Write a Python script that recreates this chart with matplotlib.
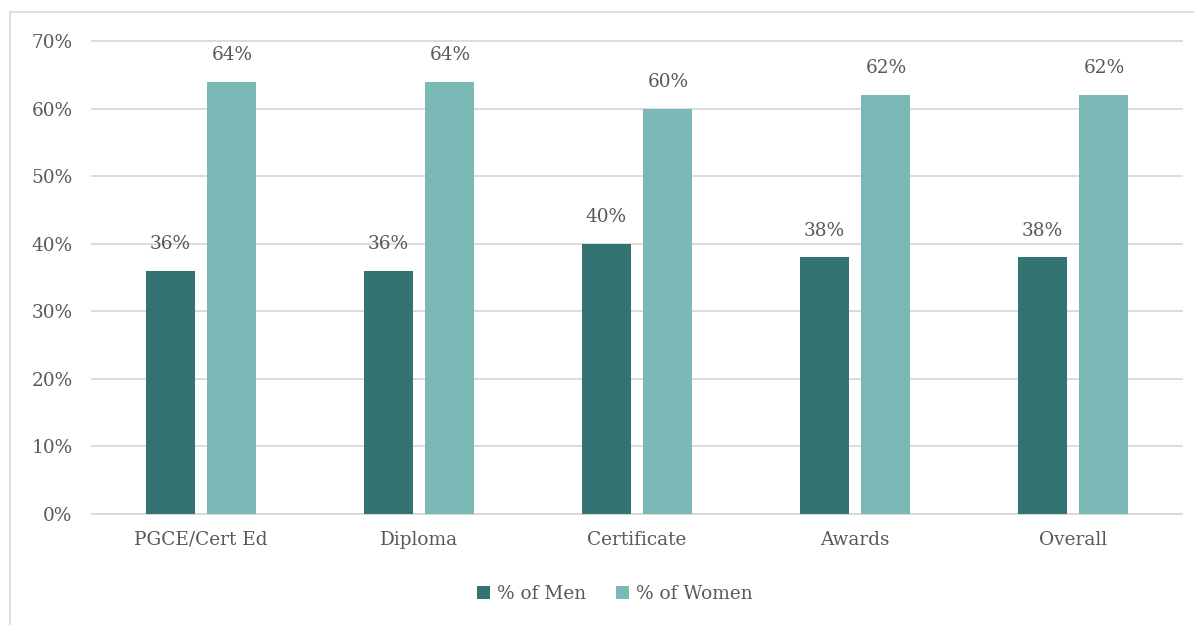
import matplotlib
matplotlib.use("Agg")
import matplotlib.pyplot as plt
from matplotlib.lines import Line2D
from matplotlib.ticker import PercentFormatter, MultipleLocator
import numpy as np

categories = ["PGCE/Cert Ed", "Diploma", "Certificate", "Awards", "Overall"]
men = [36, 36, 40, 38, 38]
women = [64, 64, 60, 62, 62]
series_names = ["% of Men", "% of Women"]

men_color = "#337371"
women_color = "#7bb9b7"
text_color = "#595959"
grid_color = "#d9d9d9"

plt.rcParams["font.family"] = ["DejaVu Serif"]
fs = 13.3

fig = plt.figure(figsize=(11.94, 6.25), dpi=100)
ax = fig.add_axes([92 / 1194, 1 - 514 / 625, 1090 / 1194, 473 / 625])

x = np.arange(len(categories))
width = 0.225
offset = 0.142
b1 = ax.bar(x - offset, men, width, color=men_color, label=series_names[0], zorder=3)
b2 = ax.bar(x + offset, women, width, color=women_color, label=series_names[1], zorder=3)

for bars, vals in ((b1, men), (b2, women)):
    for rect, v in zip(bars, vals):
        ax.text(rect.get_x() + rect.get_width() / 2, v + 2.6, f"{v}%",
                ha="center", va="bottom", fontsize=fs, color=text_color)

ax.set_xlim(-0.5, len(categories) - 0.5)
ax.set_ylim(0, 70)
ax.yaxis.set_major_locator(MultipleLocator(10))
ax.yaxis.set_major_formatter(PercentFormatter(decimals=0))
ax.set_xticks(x)
ax.set_xticklabels(categories)
ax.tick_params(axis="both", length=0, labelsize=fs, labelcolor=text_color)
ax.tick_params(axis="x", pad=12)
ax.tick_params(axis="y", pad=14)
ax.grid(axis="y", color=grid_color, linewidth=1.3, zorder=0)
for gl in ax.yaxis.get_gridlines():
    gl.set_clip_on(False)
for s in ("top", "right", "left"):
    ax.spines[s].set_visible(False)
ax.spines["bottom"].set_color(grid_color)
ax.spines["bottom"].set_linewidth(1.3)

# light frame lines along the top and left of the chart area
top_y = 1 - 12 / 625
left_x = 10 / 1194
fig.add_artist(Line2D([left_x, 1.0], [top_y, top_y], transform=fig.transFigure,
                      color=grid_color, linewidth=1.2))
fig.add_artist(Line2D([left_x, left_x], [0.0, top_y], transform=fig.transFigure,
                      color=grid_color, linewidth=1.2))

fig.legend(handles=[b1, b2], labels=series_names, loc="center",
           bbox_to_anchor=(615 / 1194, 1 - 594 / 625), ncol=2, frameon=False,
           fontsize=fs, labelcolor=text_color, handlelength=0.7, handleheight=0.7,
           handletextpad=0.4, columnspacing=1.6)

fig.savefig("out.png", dpi=100)
